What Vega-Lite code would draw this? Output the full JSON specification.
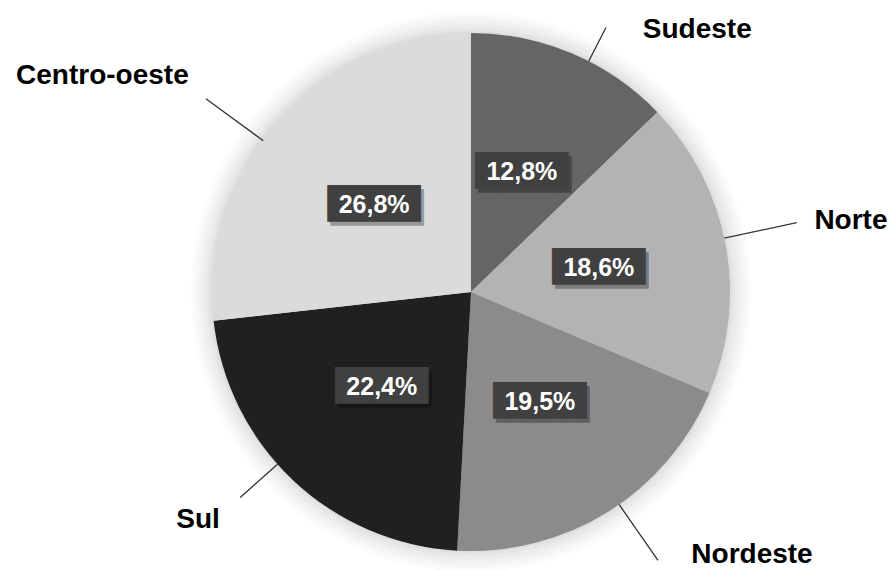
{
  "$schema": "https://vega.github.io/schema/vega-lite/v6.json",
  "width": 840,
  "height": 556,
  "autosize": {"type": "none"},
  "padding": {"left": 51, "top": 14, "right": 0, "bottom": 0},
  "background": "white",
  "config": {"view": {"stroke": null}},
  "data": {"values": [
    {"regiao": "Sudeste", "valor": 12.8, "rotulo": "12,8%", "ordem": 1},
    {"regiao": "Norte", "valor": 18.6, "rotulo": "18,6%", "ordem": 2},
    {"regiao": "Nordeste", "valor": 19.5, "rotulo": "19,5%", "ordem": 3},
    {"regiao": "Sul", "valor": 22.4, "rotulo": "22,4%", "ordem": 4},
    {"regiao": "Centro-oeste", "valor": 26.8, "rotulo": "26,8%", "ordem": 5}
  ]},
  "layer": [
    {"data": {"values": [{"g": 1}]}, "mark": {"type": "arc", "theta": 0, "theta2": 6.2832, "radius": 280, "fill": "#000", "opacity": 0.016}, "encoding": {}},
    {"data": {"values": [{"g": 1}]}, "mark": {"type": "arc", "theta": 0, "theta2": 6.2832, "radius": 276, "fill": "#000", "opacity": 0.018}, "encoding": {}},
    {"data": {"values": [{"g": 1}]}, "mark": {"type": "arc", "theta": 0, "theta2": 6.2832, "radius": 272, "fill": "#000", "opacity": 0.02}, "encoding": {}},
    {"data": {"values": [{"g": 1}]}, "mark": {"type": "arc", "theta": 0, "theta2": 6.2832, "radius": 268, "fill": "#000", "opacity": 0.022}, "encoding": {}},
    {"data": {"values": [{"g": 1}]}, "mark": {"type": "arc", "theta": 0, "theta2": 6.2832, "radius": 264, "fill": "#000", "opacity": 0.024}, "encoding": {}},
    {"data": {"values": [{"g": 1}]}, "mark": {"type": "arc", "theta": 0, "theta2": 6.2832, "radius": 261, "fill": "#000", "opacity": 0.026}, "encoding": {}},
    {
      "mark": {"type": "arc", "radius": 259},
      "encoding": {
        "theta": {"field": "valor", "type": "quantitative", "stack": true},
        "order": {"field": "ordem", "type": "quantitative"},
        "color": {"field": "regiao", "type": "nominal", "legend": null,
          "scale": {"domain": ["Sudeste", "Norte", "Nordeste", "Sul", "Centro-oeste"],
                    "range": ["#656565", "#b3b3b3", "#8b8b8b", "#202020", "#dbdbdb"]}}
      }
    },
    {
      "mark": {"type": "arc", "radius": 297, "radius2": 259, "padAngle": 3, "thetaOffset": 0.07, "fillOpacity": 0, "stroke": "#333333", "strokeWidth": 1.3},
      "encoding": {
        "theta": {"field": "valor", "type": "quantitative", "stack": true},
        "order": {"field": "ordem", "type": "quantitative"},
        "strokeOpacity": {"condition": {"test": "datum.regiao === 'Sudeste'", "value": 1}, "value": 0}
      }
    },
    {
      "mark": {"type": "arc", "radius": 333, "radius2": 259, "padAngle": 3, "thetaOffset": -0.026, "fillOpacity": 0, "stroke": "#333333", "strokeWidth": 1.3},
      "encoding": {
        "theta": {"field": "valor", "type": "quantitative", "stack": true},
        "order": {"field": "ordem", "type": "quantitative"},
        "strokeOpacity": {"condition": {"test": "datum.regiao === 'Norte'", "value": 1}, "value": 0}
      }
    },
    {
      "mark": {"type": "arc", "radius": 327, "radius2": 259, "padAngle": 3, "thetaOffset": -0.05, "fillOpacity": 0, "stroke": "#333333", "strokeWidth": 1.3},
      "encoding": {
        "theta": {"field": "valor", "type": "quantitative", "stack": true},
        "order": {"field": "ordem", "type": "quantitative"},
        "strokeOpacity": {"condition": {"test": "datum.regiao === 'Nordeste'", "value": 1}, "value": 0}
      }
    },
    {
      "mark": {"type": "arc", "radius": 309, "radius2": 259, "padAngle": 3, "thetaOffset": 0.087, "fillOpacity": 0, "stroke": "#333333", "strokeWidth": 1.3},
      "encoding": {
        "theta": {"field": "valor", "type": "quantitative", "stack": true},
        "order": {"field": "ordem", "type": "quantitative"},
        "strokeOpacity": {"condition": {"test": "datum.regiao === 'Sul'", "value": 1}, "value": 0}
      }
    },
    {
      "mark": {"type": "arc", "radius": 328, "radius2": 257, "padAngle": 3, "thetaOffset": -0.1, "fillOpacity": 0, "stroke": "#333333", "strokeWidth": 1.3},
      "encoding": {
        "theta": {"field": "valor", "type": "quantitative", "stack": true},
        "order": {"field": "ordem", "type": "quantitative"},
        "strokeOpacity": {"condition": {"test": "datum.regiao === 'Centro-oeste'", "value": 1}, "value": 0}
      }
    },
    {
      "mark": {"type": "text", "radius": 130, "font": "DejaVu Sans Mono", "fontSize": 31, "fill": "#000", "opacity": 0.3, "dx": 3, "dy": 4, "align": "center", "baseline": "middle", "text": "█████"},
      "encoding": {
        "theta": {"field": "valor", "type": "quantitative", "stack": true},
        "order": {"field": "ordem", "type": "quantitative"}
      }
    },
    {
      "mark": {"type": "text", "radius": 130, "font": "DejaVu Sans Mono", "fontSize": 31, "fill": "#404040", "align": "center", "baseline": "middle", "text": "█████"},
      "encoding": {
        "theta": {"field": "valor", "type": "quantitative", "stack": true},
        "order": {"field": "ordem", "type": "quantitative"}
      }
    },
    {
      "mark": {"type": "text", "radius": 130, "font": "Liberation Sans", "fontSize": 25, "fontWeight": "bold", "fill": "white", "align": "center", "baseline": "middle"},
      "encoding": {
        "theta": {"field": "valor", "type": "quantitative", "stack": true},
        "order": {"field": "ordem", "type": "quantitative"},
        "text": {"field": "rotulo", "type": "nominal"}
      }
    },
    {
      "mark": {"type": "text", "radius": 300, "font": "Liberation Sans", "fontSize": 28, "fontWeight": "bold", "fill": "black", "align": "center", "baseline": "middle", "dx": 109, "dy": 14},
      "encoding": {
        "theta": {"field": "valor", "type": "quantitative", "stack": true},
        "order": {"field": "ordem", "type": "quantitative"},
        "text": {"condition": {"test": "datum.regiao === 'Sudeste'", "field": "regiao"}, "value": ""}
      }
    },
    {
      "mark": {"type": "text", "radius": 300, "font": "Liberation Sans", "fontSize": 28, "fontWeight": "bold", "fill": "black", "align": "center", "baseline": "middle", "dx": 85, "dy": -16},
      "encoding": {
        "theta": {"field": "valor", "type": "quantitative", "stack": true},
        "order": {"field": "ordem", "type": "quantitative"},
        "text": {"condition": {"test": "datum.regiao === 'Norte'", "field": "regiao"}, "value": ""}
      }
    },
    {
      "mark": {"type": "text", "radius": 300, "font": "Liberation Sans", "fontSize": 28, "fontWeight": "bold", "fill": "black", "align": "center", "baseline": "middle", "dx": 122, "dy": 9},
      "encoding": {
        "theta": {"field": "valor", "type": "quantitative", "stack": true},
        "order": {"field": "ordem", "type": "quantitative"},
        "text": {"condition": {"test": "datum.regiao === 'Nordeste'", "field": "regiao"}, "value": ""}
      }
    },
    {
      "mark": {"type": "text", "radius": 300, "font": "Liberation Sans", "fontSize": 28, "fontWeight": "bold", "fill": "black", "align": "center", "baseline": "middle", "dx": -67, "dy": 10},
      "encoding": {
        "theta": {"field": "valor", "type": "quantitative", "stack": true},
        "order": {"field": "ordem", "type": "quantitative"},
        "text": {"condition": {"test": "datum.regiao === 'Sul'", "field": "regiao"}, "value": ""}
      }
    },
    {
      "mark": {"type": "text", "radius": 300, "font": "Liberation Sans", "fontSize": 28, "fontWeight": "bold", "fill": "black", "align": "center", "baseline": "middle", "dx": -145, "dy": -16},
      "encoding": {
        "theta": {"field": "valor", "type": "quantitative", "stack": true},
        "order": {"field": "ordem", "type": "quantitative"},
        "text": {"condition": {"test": "datum.regiao === 'Centro-oeste'", "field": "regiao"}, "value": ""}
      }
    }
  ]
}
